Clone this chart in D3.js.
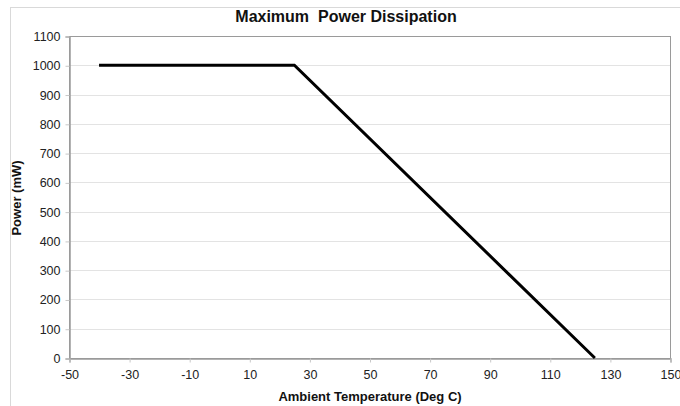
<!DOCTYPE html>
<html><head><meta charset="utf-8">
<script src="https://cdn.jsdelivr.net/npm/d3@7"></script>
<style>body{margin:0;background:#fff;}svg{display:block;font-family:"Liberation Sans",Arial,sans-serif;}</style>
</head><body>
<svg id="c" width="680" height="406"></svg>
<script>
const temps = [-40, 25, 125];
const power = [1000, 1000, 0];
const xTicks = [-50, -30, -10, 10, 30, 50, 70, 90, 110, 130, 150];
const yTicks = [0, 100, 200, 300, 400, 500, 600, 700, 800, 900, 1000, 1100];
const title = "Maximum  Power Dissipation";
const xLabel = "Ambient Temperature (Deg C)";
const yLabel = "Power (mW)";

const svg = d3.select("#c");
const L = 69, R = 670, T = 36, B = 358;
const x = d3.scaleLinear().domain([-50, 150]).range([L, R]);
const y = d3.scaleLinear().domain([0, 1100]).range([B, T]);

// outer chart border
svg.append("line").attr("x1",10).attr("x2",680).attr("y1",7.5).attr("y2",7.5).attr("stroke","#d9d9d9");
svg.append("line").attr("x1",10.5).attr("x2",10.5).attr("y1",7).attr("y2",406).attr("stroke","#d9d9d9");

// gridlines
svg.append("g").selectAll("line").data(yTicks.filter(d=>d>0)).join("line")
  .attr("x1",L).attr("x2",R).attr("y1",d=>Math.round(y(d))+0.5).attr("y2",d=>Math.round(y(d))+0.5)
  .attr("stroke","#e3e3e3").attr("stroke-width",1);

// plot border
svg.append("rect").attr("x",L+0.5).attr("y",T+0.5).attr("width",R-L).attr("height",B-T)
  .attr("fill","none").attr("stroke","#9a9a9a");

// axes
const yAxis = d3.axisLeft(y).tickValues(yTicks).tickSize(4).tickPadding(5).tickFormat(d3.format("d"));
const gy = svg.append("g").attr("transform",`translate(${L+0.5},0.5)`).call(yAxis);
const xAxis = d3.axisBottom(x).tickValues(xTicks).tickSize(4).tickPadding(8).tickFormat(d=>d<0?"-"+Math.abs(d):d);
const gx = svg.append("g").attr("transform",`translate(0.5,${B+0.5})`).call(xAxis);
[gx,gy].forEach(g=>{
  g.select(".domain").attr("stroke","#9a9a9a").attr("stroke-width",1.5);
  g.selectAll(".tick line").attr("stroke","#c8c8c8");
  g.selectAll(".tick text").attr("fill","#222").attr("font-size","12.5px").attr("font-family","'Liberation Sans',Arial,sans-serif");
});

// line
const line = d3.line().x(d=>x(d[0])).y(d=>y(d[1]));
svg.append("path").datum(temps.map((t,i)=>[t,power[i]])).attr("d",line)
  .attr("fill","none").attr("stroke","#000").attr("stroke-width",3).attr("stroke-linejoin","miter");

// texts
svg.append("text").attr("x",346).attr("y",22).attr("text-anchor","middle").style("white-space","pre")
  .attr("font-weight","bold").attr("font-size","16px").attr("fill","#111").text(title);
svg.append("text").attr("x",370).attr("y",401).attr("text-anchor","middle")
  .attr("font-weight","bold").attr("font-size","13px").attr("fill","#111").text(xLabel);
svg.append("text").attr("transform","translate(21,198) rotate(-90)").attr("text-anchor","middle")
  .attr("font-weight","bold").attr("font-size","13px").attr("fill","#111").text(yLabel);
</script>
</body></html>
